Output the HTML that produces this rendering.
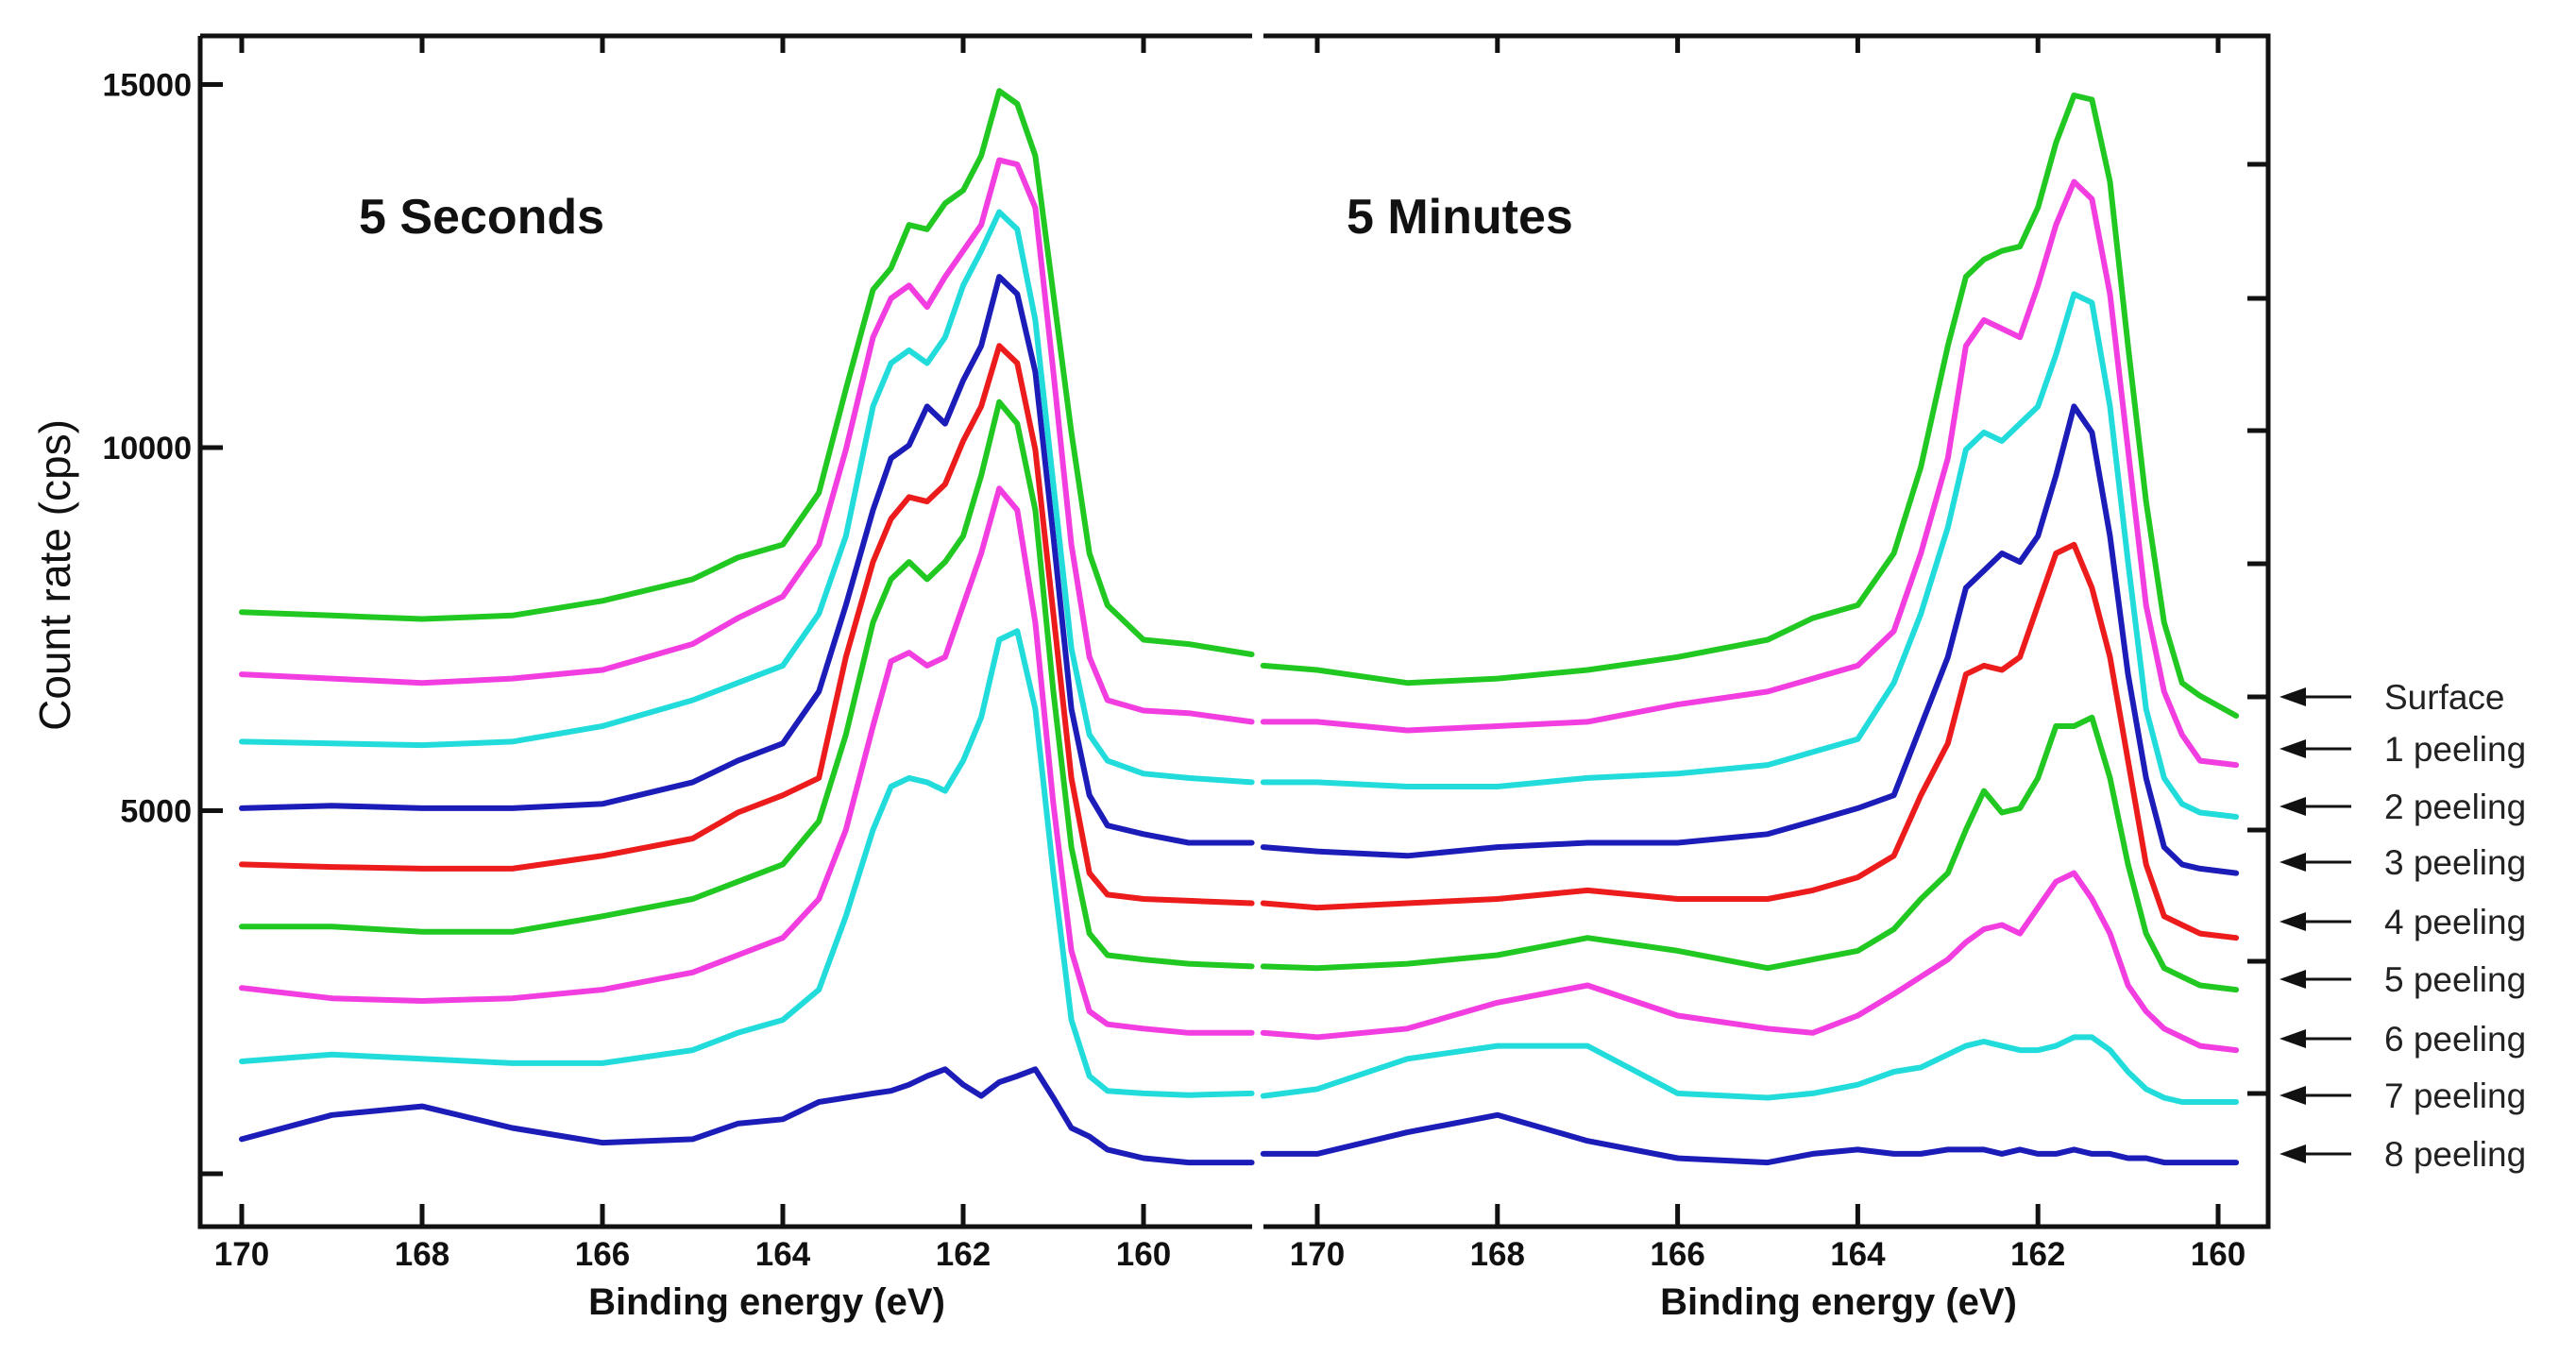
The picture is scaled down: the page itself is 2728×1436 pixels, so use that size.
<!DOCTYPE html>
<html><head><meta charset="utf-8"><style>
html,body{margin:0;padding:0;background:#fff;}
svg{display:block;}
text{font-family:"Liberation Sans",sans-serif;}
</style></head><body>
<svg id="chart" width="2728" height="1436" viewBox="0 0 2728 1436" xmlns="http://www.w3.org/2000/svg"></svg>
<script>
const energiesLeft=[170,169,168,167,166,165,164.5,164,163.6,163.3,163,162.8,162.6,162.4,162.2,162,161.8,161.6,161.4,161.2,161,160.8,160.6,160.4,160,159.5,158.8];
const energiesRight=[170.6,170,169,168,167,166,165,164.5,164,163.6,163.3,163,162.8,162.6,162.4,162.2,162,161.8,161.6,161.4,161.2,161,160.8,160.6,160.4,160.2,159.8];
const seriesNames=["Surface","1 peeling","2 peeling","3 peeling","4 peeling","5 peeling","6 peeling","7 peeling","8 peeling"];
const seriesColors=["#22c822","#f23ee0","#22dcdc","#1c1cb8","#ec1c1c","#22c822","#f23ee0","#22dcdc","#1c1cb8"];
const left0=[7735,7688,7640,7688,7890,8187,8485,8663,9377,10805,12174,12471,13066,13007,13364,13542,14018,14911,14733,14018,12114,10210,8544,7830,7354,7294,7152];
const left1=[6878,6819,6759,6819,6938,7295,7652,7949,8663,9972,11519,12055,12233,11936,12352,12709,13066,13959,13899,13304,11043,8663,7116,6521,6378,6343,6224];
const left2=[5950,5926,5902,5950,6164,6521,6759,6997,7711,8782,10567,11162,11341,11162,11519,12233,12709,13245,13007,11757,9496,7235,6045,5688,5510,5450,5391];
const left3=[5034,5069,5034,5034,5093,5391,5688,5926,6640,7830,9139,9853,10032,10567,10329,10924,11400,12352,12114,11043,8782,6402,5212,4796,4677,4558,4558];
const left4=[4260,4225,4201,4201,4379,4617,4974,5212,5450,7116,8425,9020,9318,9258,9496,10091,10567,11400,11162,9972,7711,5450,4141,3844,3784,3760,3725];
const left5=[3403,3403,3332,3332,3546,3784,4022,4260,4855,6045,7592,8187,8425,8187,8425,8782,9615,10627,10329,9139,6640,4498,3308,3011,2951,2892,2856];
const left6=[2559,2416,2380,2416,2535,2773,3011,3249,3784,4736,6164,7057,7176,6997,7116,7830,8544,9437,9139,7592,5093,3070,2237,2059,1999,1940,1940];
const left7=[1547,1642,1583,1523,1523,1702,1940,2118,2535,3546,4736,5331,5450,5391,5272,5688,6283,7354,7473,6402,4141,2118,1345,1142,1107,1083,1107];
const left8=[476,809,928,631,428,476,690,750,988,1047,1107,1142,1226,1345,1440,1226,1071,1261,1345,1440,1047,631,512,333,214,155,155];
const right0=[6997,6938,6759,6819,6938,7116,7354,7652,7830,8544,9734,11400,12352,12590,12709,12769,13304,14197,14851,14792,13661,11400,9258,7592,6759,6581,6307];
const right1=[6224,6224,6105,6164,6224,6462,6640,6819,6997,7473,8544,9853,11400,11757,11638,11519,12233,13066,13661,13423,12114,9972,7830,6640,6045,5688,5629];
const right2=[5391,5391,5331,5331,5450,5510,5629,5807,5986,6759,7711,8901,9972,10210,10091,10329,10567,11281,12114,11995,10567,8425,6402,5450,5093,4974,4915];
const right3=[4498,4439,4379,4498,4558,4558,4677,4855,5034,5212,6164,7116,8068,8306,8544,8425,8782,9615,10567,10210,8782,6878,5450,4498,4260,4201,4141];
const right4=[3725,3665,3725,3784,3903,3784,3784,3903,4082,4379,5212,5926,6878,6997,6938,7116,7830,8544,8663,8068,7116,5688,4260,3546,3427,3308,3249];
const right5=[2856,2832,2892,3011,3249,3070,2832,2951,3070,3368,3784,4141,4736,5272,4974,5034,5450,6164,6164,6283,5450,4260,3308,2832,2713,2594,2535];
const right6=[1940,1880,1999,2356,2594,2178,1999,1940,2178,2475,2713,2951,3189,3368,3427,3308,3665,4022,4141,3784,3308,2594,2237,1999,1880,1761,1702];
const right7=[1071,1166,1583,1761,1761,1107,1047,1107,1226,1404,1464,1642,1761,1821,1761,1702,1702,1761,1880,1880,1702,1404,1166,1047,988,988,988];
const right8=[274,274,571,809,452,214,155,274,333,274,274,333,333,333,274,333,274,274,333,274,274,214,214,155,155,155,155];
const leftSeries=[left0,left1,left2,left3,left4,left5,left6,left7,left8];
const rightSeries=[right0,right1,right2,right3,right4,right5,right6,right7,right8];
const xTicks=[170,168,166,164,162,160];
const yTicks=[0,5000,10000,15000];
const yTickLabels=["","5000","10000","15000"];

const NS="http://www.w3.org/2000/svg";
const svg=document.getElementById('chart');
function mk(tag,attrs,parent){const e=document.createElementNS(NS,tag);for(const k in attrs)e.setAttribute(k,attrs[k]);(parent||svg).appendChild(e);return e;}
const yScale=v=>1243-v*0.0769;
const xLeft=e=>256+(170-e)*95.5;
const xRight=e=>1395+(170-e)*95.4;
const TOP=38,BOT=1299;

let g=mk('g',{});


mk('path',{d:`M212,${TOP} L1326,${TOP} M212,${TOP} L212,${BOT} L1326,${BOT}`,stroke:'#111',"stroke-width":5,fill:'none'},g);
g=mk('g',{});


mk('path',{d:`M1338,${TOP} L2402,${TOP} L2402,${BOT} L1338,${BOT}`,stroke:'#111',"stroke-width":5,fill:'none'},g);

[[xLeft,'left'],[xRight,'right']].forEach(([sx,side])=>{
  xTicks.forEach(t=>{
    const x=sx(t);
    const tk=mk('path',{d:`M${x},${BOT} L${x},${BOT-24} M${x},${TOP} L${x},${TOP+18}`,stroke:'#111',"stroke-width":5});
    
    
    const lb=mk('text',{x:x,y:1340,"text-anchor":'middle',"font-size":35,"font-weight":'bold',fill:'#111'});
    lb.textContent=t;
    
    
  });
});
yTicks.forEach((t,i)=>{
  const y=yScale(t);
  const tk=mk('path',{d:`M212,${y} L236,${y}`,stroke:'#111',"stroke-width":5});
  
  
  const lb=mk('text',{x:203,y:y+12,"text-anchor":'end',"font-size":34,"font-weight":'bold',fill:'#111'});
  lb.textContent=yTickLabels[i];
  
  
});
[174,316,456,597,738,879,1018,1158].forEach(y=>{
  const tk=mk('path',{d:`M2402,${y} L2380,${y}`,stroke:'#111',"stroke-width":5});
  
  
});

function drawSeries(en,vals,sx,color,name){
  const pts=en.map((e,i)=>sx(e).toFixed(1)+','+yScale(vals[i]).toFixed(1)).join(' ');
  const p=mk('polyline',{points:pts,fill:'none',stroke:color,"stroke-width":6,"stroke-linejoin":'round',"stroke-linecap":'round'});
  
  
}
for(let i=8;i>=0;i--){
  drawSeries(energiesLeft,leftSeries[i],xLeft,seriesColors[i],'seconds-series-'+i);
  drawSeries(energiesRight,rightSeries[i],xRight,seriesColors[i],'minutes-series-'+i);
}

const arrowY=[738,793,854,913,976,1037,1100,1160,1222];
seriesNames.forEach((n,i)=>{
  const y=arrowY[i];
  const a=mk('g',{});
  
  
  mk('line',{x1:2436,y1:y,x2:2490,y2:y,stroke:'#111',"stroke-width":3},a);
  mk('polygon',{points:`2414,${y} 2442,${y-10} 2442,${y+10}`,fill:'#111'},a);
  const t=mk('text',{x:2525,y:y+13,"font-size":37,fill:'#222'});
  t.textContent=n;
  
  
});

function txt(s,attrs,name){const t=mk('text',attrs);t.textContent=s;return t;}
txt('5 Seconds',{x:380,y:247,"font-size":52,"font-weight":'bold',fill:'#111'},'panel-title-seconds');
txt('5 Minutes',{x:1426,y:247,"font-size":52,"font-weight":'bold',fill:'#111'},'panel-title-minutes');
txt('Binding energy (eV)',{x:812,y:1392,"text-anchor":'middle',"font-size":40,"font-weight":'bold',fill:'#111'},'x-axis-title-left');
txt('Binding energy (eV)',{x:1947,y:1392,"text-anchor":'middle',"font-size":40,"font-weight":'bold',fill:'#111'},'x-axis-title-right');
txt('Count rate (cps)',{x:0,y:0,"text-anchor":'middle',"font-size":46,fill:'#111',transform:'translate(74,609) rotate(-90)'},'y-axis-title');
</script>
</body></html>
